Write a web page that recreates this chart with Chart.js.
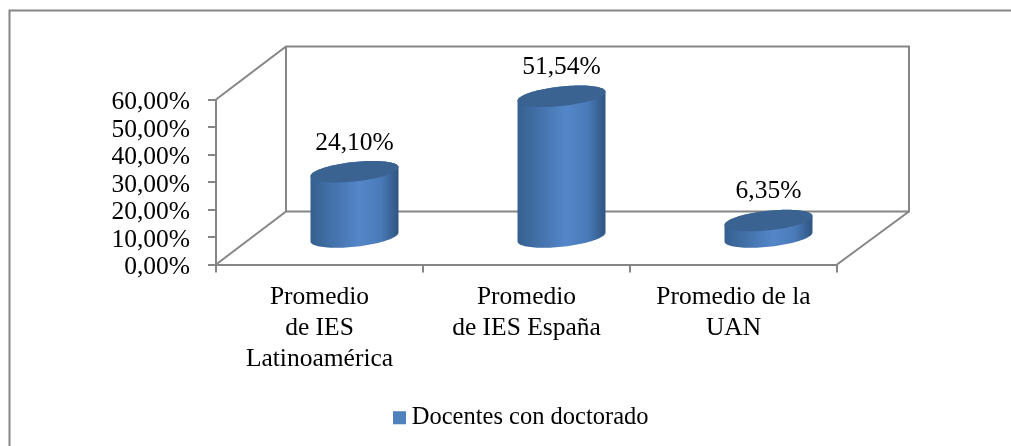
<!DOCTYPE html>
<html><head><meta charset="utf-8">
<style>html,body{margin:0;padding:0;background:#fff}#wrap{width:1011px;height:446px;position:relative}</style>
<script src="https://cdn.jsdelivr.net/npm/chart.js@4"></script>
</head><body><div id="wrap"><canvas id="c"></canvas></div>
<script>
const categories = [["Promedio","de IES","Latinoamérica"],["Promedio","de IES España"],["Promedio de la","UAN"]];
const seriesName = "Docentes con doctorado";
const seriesValues = [24.10, 51.54, 6.35];
const yTicks = [0,10,20,30,40,50,60];

const FONT = "'Liberation Serif'";
const LINE = "#868686";
const depth = {x:70, xRight:72, y:-53};
const fmt = v => v.toFixed(2).replace('.',',') + '%';

const threeD = {
  id:'threeD',
  afterLayout(chart){
    const lg = chart.legend;
    lg.left -= 2.5; lg.right -= 2.5;
  },
  beforeDraw(chart){
    const {ctx} = chart;
    ctx.save();
    ctx.fillStyle='#fff'; ctx.fillRect(0,0,chart.width,chart.height);
    ctx.strokeStyle=LINE; ctx.lineWidth=2;
    ctx.beginPath();
    ctx.moveTo(9.5,chart.height);ctx.lineTo(9.5,10.5);ctx.lineTo(chart.width,10.5);
    ctx.stroke();
    ctx.restore();
  },
  beforeDatasetsDraw(chart){
    const {ctx, chartArea:a} = chart;
    const L=a.left,R=a.right,T=a.top,B=a.bottom,dx=depth.x,rx=depth.xRight,dy=depth.y;
    ctx.save();
    ctx.strokeStyle=LINE; ctx.lineWidth=2; ctx.lineJoin='miter';
    ctx.beginPath();
    ctx.moveTo(L,T);ctx.lineTo(L+dx,T+dy);ctx.lineTo(R+rx,T+dy);ctx.lineTo(R+rx,B+dy);ctx.lineTo(L+dx,B+dy);ctx.lineTo(L+dx,T+dy);
    ctx.moveTo(L,B);ctx.lineTo(L+dx,B+dy);
    ctx.moveTo(R+rx,B+dy);ctx.lineTo(R,B);
    ctx.stroke();
    ctx.restore();
  },
  beforeDatasetDraw(chart,args){
    const {ctx} = chart;
    const meta = args.meta;
    meta.data.forEach((bar,i)=>{
      const hx = bar.width/2;
      const cx = bar.x + depth.x/2;
      const yBase = bar.base + depth.y/2;
      const yTop = bar.y + depth.y/2;
      const k = -hx*0.102, m = hx*0.223;
      const pt=(cy,t)=>[cx+hx*Math.cos(t), cy+k*Math.cos(t)+m*Math.sin(t)];
      const g = ctx.createLinearGradient(cx-hx,0,cx+hx,0);
      g.addColorStop(0,'#35608f');g.addColorStop(0.55,'#5486c9');g.addColorStop(0.8,'#4a7ab8');g.addColorStop(1,'#2f5581');
      ctx.save();
      ctx.beginPath();
      for(let s=0;s<=48;s++){const p=pt(yBase,Math.PI*s/48);s?ctx.lineTo(p[0],p[1]):ctx.moveTo(p[0],p[1]);}
      for(let s=0;s<=48;s++){const p=pt(yTop,Math.PI+Math.PI*s/48);ctx.lineTo(p[0],p[1]);}
      ctx.closePath();ctx.fillStyle=g;ctx.fill();
      ctx.beginPath();
      for(let s=0;s<=96;s++){const p=pt(yTop,2*Math.PI*s/96);s?ctx.lineTo(p[0],p[1]):ctx.moveTo(p[0],p[1]);}
      ctx.closePath();ctx.fillStyle='#3b6391';ctx.fill();
      ctx.fillStyle='#000';ctx.font='25.5px '+FONT;ctx.textAlign='center';ctx.textBaseline='middle';
      ctx.fillText(fmt(seriesValues[i]),cx,yTop-m-19);
      ctx.restore();
    });
    return false;
  }
};

new Chart(document.getElementById('c'),{
  type:'bar',
  data:{labels:categories,datasets:[{label:seriesName,data:seriesValues,backgroundColor:'#4f81bd',borderWidth:0,categoryPercentage:1,barPercentage:0.425}]},
  plugins:[threeD],
  options:{
    responsive:true,maintainAspectRatio:false,animation:false,
    layout:{padding:{top:99.5,right:174,left:0,bottom:6}},
    plugins:{
      tooltip:{enabled:false},
      legend:{position:'bottom',fullSize:false,labels:{font:{family:FONT,size:24.5},color:'#000',usePointStyle:true,pointStyle:'rect',boxHeight:13,boxWidth:0.01,padding:4}}
    },
    scales:{
      x:{
        afterFit(s){s.height=137},
        border:{color:LINE,width:2},
        grid:{drawOnChartArea:false,color:LINE,lineWidth:2,tickLength:8},
        ticks:{autoSkip:false,maxRotation:0,minRotation:0,padding:9,color:'#000',font:{family:FONT,size:25.5,lineHeight:1.215}}
      },
      y:{
        min:0,max:60,
        afterBuildTicks(s){s.ticks=yTicks.map(v=>({value:v}))},
        afterFit(s){s.width=216},
        border:{color:LINE,width:2},
        grid:{drawOnChartArea:false,color:LINE,lineWidth:2,tickLength:8},
        ticks:{autoSkip:false,padding:18,labelOffset:3,color:'#000',font:{family:FONT,size:25.5},callback:v=>fmt(v)}
      }
    }
  }
});
</script></body></html>
